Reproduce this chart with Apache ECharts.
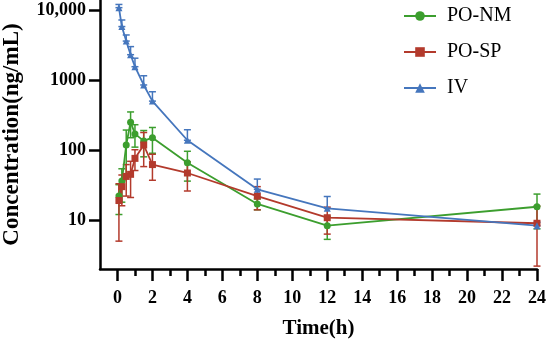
<!DOCTYPE html>
<html>
<head>
<meta charset="utf-8">
<script src="https://cdn.jsdelivr.net/npm/echarts@6/dist/echarts.min.js"></script>
<style>html,body{margin:0;padding:0;background:#fff}#c{width:550px;height:345px}</style>
</head>
<body>
<div id="c"></div>
<script>
const times = [0.083, 0.25, 0.5, 0.75, 1, 1.5, 2, 4, 8, 12, 24];
const nmMean = [22, 36, 118, 250, 170, 135, 150, 66, 17, 8.3, 15.5];
const nmSd   = [10, 18, 75, 100, 60, 55, 60, 30, 3, 3, 8];
const spMean = [19, 30, 42, 45, 76, 118, 62, 47, 22, 10.8, 9];
const spSd   = [14, 14, 20, 24, 25, 60, 25, 21, 8, 4.5, 6.8];
const ivMean = [10800, 5800, 3600, 2300, 1550, 850, 500, 138, 27.5, 14.7, 8.3];
const ivSd   = [1200, 1400, 800, 700, 500, 300, 180, 57, 11, 7, 1];
const xMajor = [0, 2, 4, 6, 8, 10, 12, 14, 16, 18, 20, 22, 24];
const xMinor = [1, 3, 5, 7, 9, 11, 13, 15, 17, 19, 21, 23];
const yTicks = [10, 100, 1000, 10000];
const names = ['PO-NM', 'PO-SP', 'IV'];
const colors = ['#3c9e2e', '#b33a2c', '#4576bd'];

const FONT = "'Liberation Serif', 'Times New Roman', serif";

function pairs(m){ return times.map((t,i)=>[t, m[i]]); }
function errData(m, s, upOnly){
  return times.map((t,i)=>[t, upOnly ? m[i] : Math.max(m[i]-s[i], 2.05), m[i]+s[i]]);
}
function errRender(color){
  return function(params, api){
    const x = api.value(0), lo = api.value(1), hi = api.value(2);
    const pH = api.coord([x, hi]), pL = api.coord([x, lo]);
    const c = 3.5;
    const st = {stroke: color, lineWidth: 1.5};
    return {type:'group', children:[
      {type:'line', shape:{x1:pH[0], y1:pH[1], x2:pL[0], y2:pL[1]}, style: st},
      {type:'line', shape:{x1:pH[0]-c, y1:pH[1], x2:pH[0]+c, y2:pH[1]}, style: st},
      {type:'line', shape:{x1:pL[0]-c, y1:pL[1], x2:pL[0]+c, y2:pL[1]}, style: st}
    ]};
  };
}

const chart = echarts.init(document.getElementById('c'), null, {renderer:'canvas'});
const axisLine = {show:true, onZero:false, lineStyle:{color:'#000', width:2.5}};
const option = {
  animation: false,
  backgroundColor: '#fff',
  grid: {left: 100, right: 13, top: 0, bottom: 76, containLabel: false, outerBoundsMode: 'none'},
  legend: {
    orient: 'vertical', left: 398, top: 1,
    itemWidth: 32, itemHeight: 12, itemGap: 16,
    data: names,
    textStyle: {fontFamily: FONT, fontSize: 20, color: '#000', padding: [0,0,0,6]}
  },
  xAxis: [{
    type: 'value', min: -1, max: 24,
    axisLine: axisLine,
    axisTick: {show:true, customValues: xMajor, length: 12, lineStyle:{color:'#000', width:2.5}},
    axisLabel: {customValues: xMajor, margin: 20, fontFamily: FONT, fontWeight:'bold', fontSize: 18, color:'#000'},
    splitLine: {show:false},
    name: 'Time(h)', nameLocation: 'middle', nameGap: 49,
    nameTextStyle: {fontFamily: FONT, fontWeight:'bold', fontSize: 21, color:'#000'}
  },{
    type: 'value', min: -1, max: 24, position: 'bottom',
    axisLine: {show:false, onZero:false},
    axisTick: {show:true, customValues: xMinor, length: 7, lineStyle:{color:'#000', width:2.5}},
    axisLabel: {show:false},
    splitLine: {show:false}
  }],
  yAxis: {
    type: 'log', logBase: 10, min: 2, max: 13895,
    axisLine: axisLine,
    axisTick: {show:true, customValues: yTicks, length: 11, lineStyle:{color:'#000', width:2.5}},
    axisLabel: {customValues: yTicks, margin: 14, fontFamily: FONT, fontWeight:'bold', fontSize: 18, color:'#000',
      formatter: v => v >= 10000 ? '10,000' : String(Math.round(v))},
    splitLine: {show:false},
    name: 'Concentration(ng/mL)', nameLocation: 'middle', nameGap: 76,
    nameTextStyle: {fontFamily: FONT, fontWeight:'bold', fontSize: 23, color:'#000'}
  },
  series: [
    {type:'custom', name:'errNM', renderItem: errRender(colors[0]), data: errData(nmMean, nmSd, false), encode:{x:0, y:[1,2]}, z:1, silent:true},
    {type:'custom', name:'errSP', renderItem: errRender(colors[1]), data: errData(spMean, spSd, false), encode:{x:0, y:[1,2]}, z:1, silent:true},
    {type:'custom', name:'errIV', renderItem: errRender(colors[2]), data: errData(ivMean, ivSd, true), encode:{x:0, y:[1,2]}, z:1, silent:true},
    {type:'line', name:names[0], data: pairs(nmMean), color: colors[0], symbol:'circle', symbolSize:7, lineStyle:{width:1.8}, z:3},
    {type:'line', name:names[1], data: pairs(spMean), color: colors[1], symbol:'rect', symbolSize:7, lineStyle:{width:1.8}, z:3},
    {type:'line', name:names[2], data: pairs(ivMean), color: colors[2], symbol:'triangle', symbolSize:7, lineStyle:{width:1.8}, z:3}
  ]
};
chart.setOption(option);
</script>
</body>
</html>
